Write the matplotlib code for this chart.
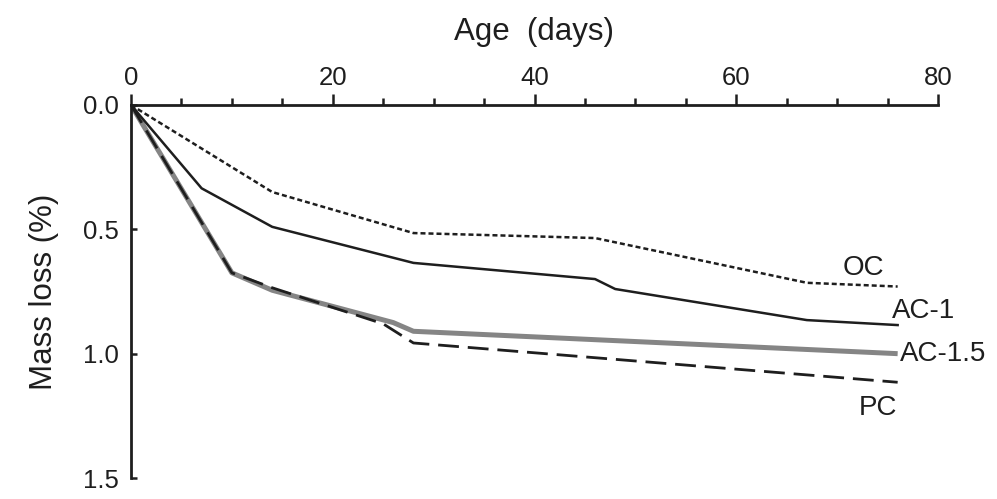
import matplotlib
matplotlib.use("Agg")
import matplotlib.pyplot as plt
from matplotlib.ticker import MultipleLocator

plt.rcParams['font.family'] = ['Liberation Sans', 'DejaVu Sans']

# Data (age in days, mass loss in %)
oc_x = [0, 14, 28, 46, 67, 76]
oc_y = [0, 0.35, 0.515, 0.535, 0.715, 0.73]

ac1_x = [0, 7, 14, 28, 46, 48, 67, 76]
ac1_y = [0, 0.335, 0.49, 0.635, 0.70, 0.74, 0.865, 0.885]

ac15_x = [0, 10, 14, 26, 28, 76]
ac15_y = [0, 0.675, 0.745, 0.875, 0.91, 1.0]

pc_x = [0, 10, 14, 25, 28, 76]
pc_y = [0, 0.675, 0.735, 0.88, 0.957, 1.115]

series_labels = ["OC", "AC-1", "AC-1.5", "PC"]
x_ticks = [0, 20, 40, 60, 80]
y_ticks = [0.0, 0.5, 1.0, 1.5]

fig = plt.figure(figsize=(9.97, 4.99), dpi=100)
ax = fig.add_axes([131/997, 1 - 478/499, (938 - 131)/997, (478 - 105)/499])

dark = '#1e1e1e'
ax.plot(ac15_x, ac15_y, color='#858585', lw=3.6, solid_capstyle='butt', zorder=2)
ax.plot(pc_x, pc_y, color=dark, lw=2.0, linestyle=(0, (7.5, 3.2)), zorder=3)
ax.plot(ac1_x, ac1_y, color=dark, lw=1.8, zorder=3)
ax.plot(oc_x, oc_y, color=dark, lw=1.8, linestyle=(0, (2.0, 1.2)), zorder=3)

ax.set_xlim(0, 80)
ax.set_ylim(1.5, 0)

ax.xaxis.tick_top()
ax.xaxis.set_label_position('top')
ax.set_xticks(x_ticks)
ax.xaxis.set_minor_locator(MultipleLocator(5))
ax.set_yticks(y_ticks)
ax.set_yticklabels([f"{v:.1f}" for v in y_ticks])

ax.tick_params(axis='x', which='major', direction='out', length=8, width=1.8,
               colors=dark, labelsize=18.5, pad=2.5)
ax.tick_params(axis='x', which='minor', direction='out', length=5, width=1.8,
               colors=dark)
ax.tick_params(axis='y', which='major', direction='in', length=4.5, width=1.8,
               colors=dark, labelsize=18.5, pad=9)

for s in ['right', 'bottom']:
    ax.spines[s].set_visible(False)
for s in ['top', 'left']:
    ax.spines[s].set_linewidth(2.0)
    ax.spines[s].set_color(dark)

ax.set_xlabel("Age  (days)", fontsize=22.5, labelpad=19, color=dark)
ax.set_ylabel("Mass loss (%)", fontsize=22.5, labelpad=17, color=dark)

fs = 20
ax.text(72.6, 0.655, series_labels[0], fontsize=fs, ha='center', va='center', color=dark)
ax.text(75.4, 0.83, series_labels[1], fontsize=fs, ha='left', va='center', color=dark)
ax.text(76.2, 1.0, series_labels[2], fontsize=fs, ha='left', va='center', color=dark)
ax.text(74.1, 1.217, series_labels[3], fontsize=fs, ha='center', va='center', color=dark)

fig.savefig("out.png", dpi=100)
